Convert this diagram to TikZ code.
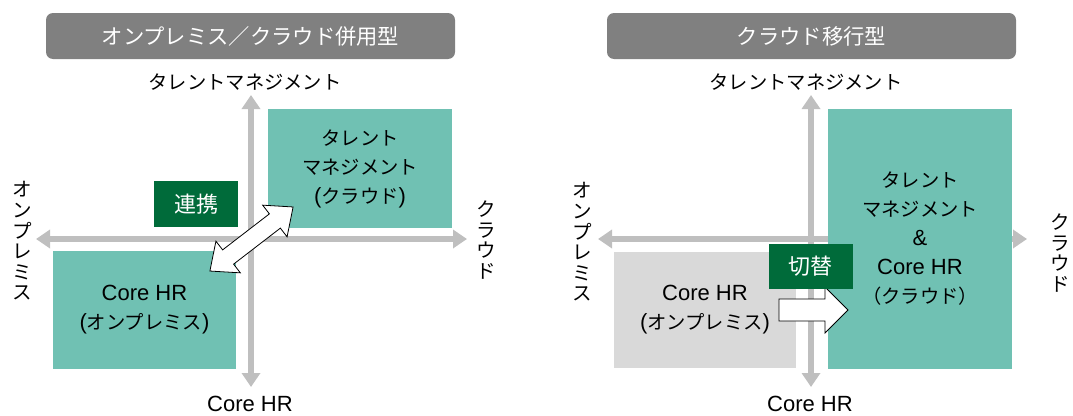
\documentclass[tikz,border=0pt]{standalone}
\usepackage{fontspec}
\setmainfont{Liberation Sans}
\newfontfamily\jp{Noto Sans CJK JP}
\usetikzlibrary{arrows.meta}
\definecolor{tealbx}{HTML}{70C1B3}
\definecolor{dgreen}{HTML}{006B3A}
\definecolor{axisgray}{HTML}{BFBFBF}
\definecolor{titlegray}{HTML}{808080}
\definecolor{boxgray}{HTML}{D9D9D9}
\newcommand\J[1]{{\jp\fontsize{19.3}{29}\selectfont #1}}
\tikzset{
  axisline/.style={draw=axisgray, line width=6pt, {Triangle[length=14pt,width=18pt]}-{Triangle[length=14pt,width=18pt]}},
  titlebox/.style={fill=titlegray, rounded corners=7pt, text=white, inner sep=0pt, minimum width=409pt, minimum height=46pt, font=\jp\fontsize{21.3}{24}\selectfont},
  tealbox/.style={fill=tealbx, inner sep=0pt, align=center, font=\fontsize{22}{29}\selectfont},
  graybox/.style={fill=boxgray, inner sep=0pt, align=center, font=\fontsize{22}{29}\selectfont},
  greenbox/.style={fill=dgreen, text=white, inner sep=0pt, font=\jp\fontsize{22}{24}\selectfont},
  axlabel/.style={inner sep=0pt, font=\fontsize{22}{29}\selectfont},
  vlabel/.style={inner sep=0pt, align=center, font=\jp\fontsize{19.5}{20.6}\selectfont},
  blockarrow/.style={draw=black, fill=white, line width=0.8pt, line join=miter}
}
\begin{document}
\begin{tikzpicture}[x=1pt,y=-1pt]
\useasboundingbox (0,0) rectangle (1073,415);
% ---------- left panel ----------
\node[titlebox] (t1) at (250.5,36) {オンプレミス／クラウド併用型};
\coordinate (Ltop) at (251,95);
\coordinate (Lbot) at (251,387);
\coordinate (Lleft) at (36,239);
\coordinate (Lright) at (467,239);
\draw[axisline] (Lleft) -- (Lright);
\draw[axisline] (Ltop) -- (Lbot);
\node[tealbox, minimum width=184pt, minimum height=119pt] (Ltm) at (360,168.5)
  {\J{タレント}\\\J{マネジメント}\\(\J{クラウド})};
\node[tealbox, minimum width=183pt, minimum height=118pt] (Lcore) at (144.5,310)
  {Core HR\\(\J{オンプレミス})};
\node[greenbox, minimum width=84pt, minimum height=46pt] (Llink) at (196,204) {連携};
\node[axlabel] (Ltl) at (245,82) {\J{タレントマネジメント}};
\node[axlabel] (Lbl) at (250,404) {Core HR};
\node[vlabel] (Lll) at (22,241) {オ\\ン\\プ\\レ\\ミ\\ス};
\node[vlabel] (Lrl) at (486,240) {ク\\ラ\\ウ\\ド};
\begin{scope}[shift={(251.5,239)}, rotate=37.6]
  \draw[blockarrow] (-52.5,0) -- (-29.5,20) -- (-29.5,9) -- (29.5,9) -- (29.5,20)
    -- (52.5,0) -- (29.5,-20) -- (29.5,-9) -- (-29.5,-9) -- (-29.5,-20) -- cycle;
\end{scope}
% ---------- right panel ----------
\node[titlebox] (t2) at (811.5,36) {クラウド移行型};
\coordinate (Rtop) at (811,95);
\coordinate (Rbot) at (811,387);
\coordinate (Rleft) at (598,239);
\coordinate (Rright) at (1027,239);
\draw[axisline] (Rleft) -- (Rright);
\draw[axisline] (Rtop) -- (Rbot);
\node[graybox, minimum width=182pt, minimum height=116pt] (Rcore) at (705,310)
  {Core HR\\(\J{オンプレミス})};
\node[tealbox, minimum width=184pt, minimum height=260pt] (Rtm) at (920,239)
  {\J{タレント}\\\J{マネジメント}\\\&\\Core HR\\\J{（クラウド）}};
\draw[blockarrow] (779,299) -- (825,299) -- (825,287) -- (848,310) -- (825,333)
  -- (825,321) -- (779,321) -- cycle;
\node[greenbox, minimum width=84pt, minimum height=45pt] (Rswitch) at (810.5,266.5) {切替};
\node[axlabel] (Rtl) at (806,82) {\J{タレントマネジメント}};
\node[axlabel] (Rbl) at (810,404) {Core HR};
\node[vlabel] (Rll) at (582,242) {オ\\ン\\プ\\レ\\ミ\\ス};
\node[vlabel] (Rrl) at (1060,253) {ク\\ラ\\ウ\\ド};
\end{tikzpicture}
\end{document}
